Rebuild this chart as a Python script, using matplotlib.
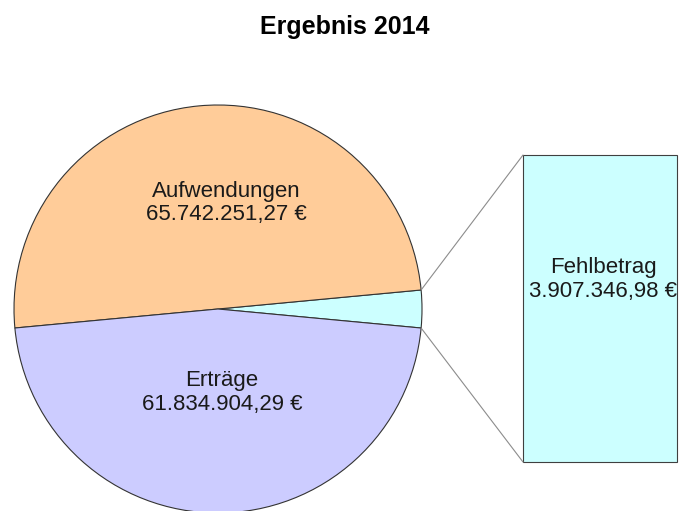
import numpy as np
import matplotlib.pyplot as plt
from matplotlib.patches import ConnectionPatch

plt.rcParams['font.family'] = ['Liberation Sans', 'DejaVu Sans']

# Werte (Euro)
titel = "Ergebnis 2014"
namen = ["Fehlbetrag", "Aufwendungen", "Erträge"]
werte = [3907346.98, 65742251.27, 61834904.29]
farben = ["#ccffff", "#ffcc99", "#ccccff"]


def euro(v):
    s = f"{v:,.2f}".replace(",", "X").replace(".", ",").replace("X", ".")
    return s + " €"


W, H = 680, 511
fig = plt.figure(figsize=(W / 100, H / 100), dpi=100)

# Kreis: links 14px, oben 105px, Radius 204px
r_px = 204
cx, cy = 218, 309
ax = fig.add_axes([(cx - r_px) / W, (H - cy - r_px) / H, 2 * r_px / W, 2 * r_px / H])
start = -360 * werte[0] / sum(werte) / 2
wedges, _ = ax.pie(werte, colors=farben, startangle=start, counterclock=True,
                   wedgeprops=dict(edgecolor="#333333", linewidth=0.8))
for w in wedges:
    w.set_clip_on(False)
ax.set_xlim(-1, 1)
ax.set_ylim(-1, 1)
ax.axis("off")

ax.text(0.04, 0.52, namen[1] + "\n" + euro(werte[1]), ha="center", va="center",
        fontsize=16, color="#1a1a1a", linespacing=1.15)
ax.text(0.02, -0.41, namen[2] + "\n" + euro(werte[2]), ha="center", va="center",
        fontsize=16, color="#1a1a1a", linespacing=1.15)

# Balken rechts
bx0, bx1, by0, by1 = 523, 677, 155, 462
axb = fig.add_axes([bx0 / W, (H - by1) / H, (bx1 - bx0) / W, (by1 - by0) / H])
bars = axb.bar([0], [werte[0]], width=1, color=farben[0], edgecolor="#404040", linewidth=0.8)
for b in bars:
    b.set_clip_on(False)
axb.set_xlim(-0.5, 0.5)
axb.set_ylim(0, werte[0])
axb.axis("off")
axb.text(0.02, werte[0] * 0.594, namen[0] + "\n" + euro(werte[0]), ha="center", va="center",
         fontsize=16, color="#1a1a1a", linespacing=1.15, clip_on=False)

# Verbindungslinien
w0 = wedges[0]
for ang, yb in [(w0.theta2, werte[0]), (w0.theta1, 0)]:
    p = (np.cos(np.radians(ang)), np.sin(np.radians(ang)))
    con = ConnectionPatch(xyA=p, coordsA=ax.transData, xyB=(-0.5, yb), coordsB=axb.transData,
                          color="#8c8c8c", linewidth=0.8)
    fig.add_artist(con)

fig.text(345 / W, 1 - 27 / H, titel, ha="center", va="center", fontsize=18, fontweight="bold")

fig.savefig("out.png", dpi=100)
